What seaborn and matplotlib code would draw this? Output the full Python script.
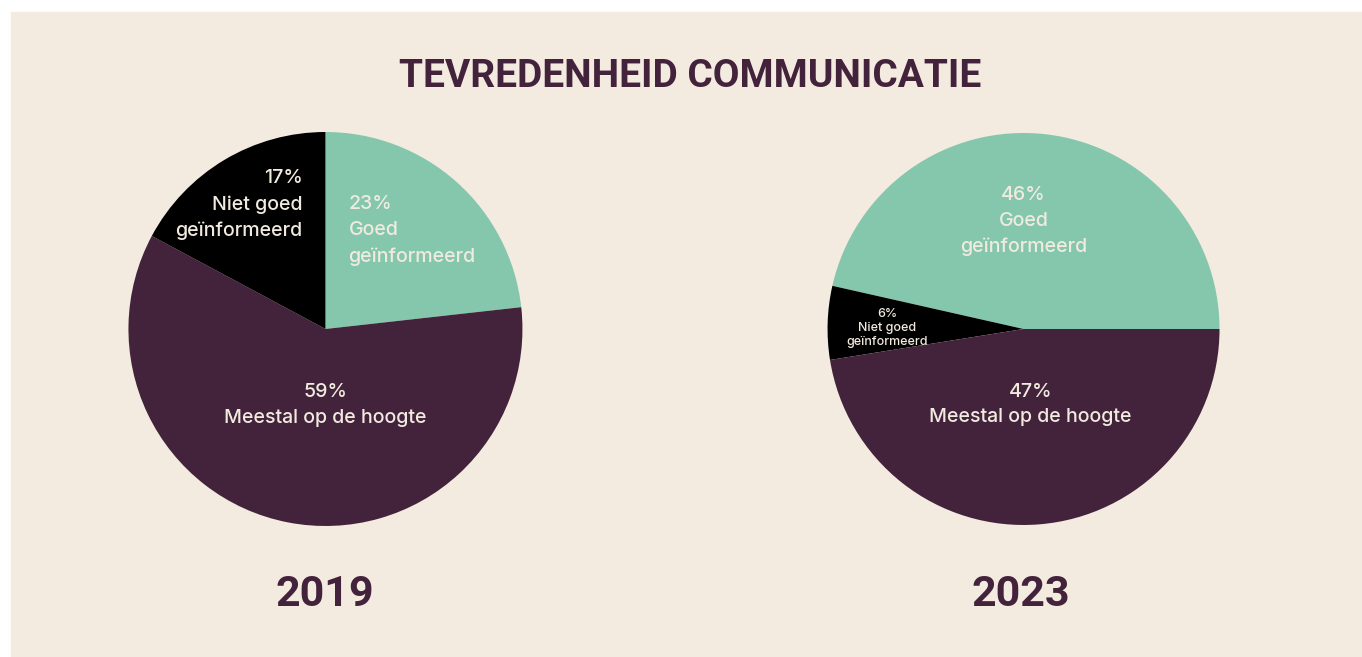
import matplotlib.pyplot as plt
import matplotlib.patches as mpatches
import seaborn as sns

# data
years = ['2019', '2023']
categories = ['Goed geïnformeerd', 'Meestal op de hoogte', 'Niet goed geïnformeerd']
values_2019 = [23, 59, 17]
values_2023 = [46, 6, 47]   # order as drawn counter-clockwise from 3 o'clock
order_2023 = ['Goed geïnformeerd', 'Niet goed geïnformeerd', 'Meestal op de hoogte']
title = 'TEVREDENHEID COMMUNICATIE'

BG = '#F3EBE0'
PURPLE = '#43233B'
GREEN = '#84C7AD'
BLACK = '#000000'
TXT = '#F1EADF'
colors = {'Goed geïnformeerd': GREEN, 'Meestal op de hoogte': PURPLE,
          'Niet goed geïnformeerd': BLACK}

sns.set_theme(style='white')
plt.rcParams['font.family'] = ['Inter', 'DejaVu Sans']
head_font = ['Roboto', 'DejaVu Sans']

fig = plt.figure(figsize=(13.62, 6.57), dpi=100, facecolor='white')
fig.patches.append(mpatches.Rectangle((11 / 1362, 0), 1, 1 - 12 / 657,
                                      transform=fig.transFigure, color=BG, zorder=-5))

ax1 = fig.add_axes([0.0943, 0.1994, 0.2893, 0.5997])
ax2 = fig.add_axes([0.6076, 0.2009, 0.2878, 0.5967])

ax1.pie(values_2019, colors=[colors[c] for c in categories], startangle=90,
        counterclock=False, radius=1, wedgeprops=dict(linewidth=0))
ax2.pie(values_2023, colors=[colors[c] for c in order_2023], startangle=0,
        counterclock=True, radius=1, wedgeprops=dict(linewidth=0))

for ax in (ax1, ax2):
    ax.set_xlim(-1, 1)
    ax.set_ylim(-1, 1)
    ax.set_aspect('equal')
    ax.axis('off')
    ax.patch.set_alpha(0)

big = 14.1
ls = 1.55
w = 'medium'
ax1.text(-0.117, 0.63, f'{values_2019[2]}%\nNiet goed\ngeïnformeerd', ha='right', va='center',
         multialignment='right', color=TXT, fontsize=big, linespacing=ls, fontweight=w)
ax1.text(0.117, 0.50, f'{values_2019[0]}%\nGoed\ngeïnformeerd', ha='left', va='center',
         multialignment='left', color=TXT, fontsize=big, linespacing=ls, fontweight=w)
ax1.text(0, -0.385, f'{values_2019[1]}%\nMeestal op de hoogte', ha='center', va='center',
         color=TXT, fontsize=big, linespacing=ls, fontweight=w)

ax2.text(0, 0.55, f'{values_2023[0]}%\nGoed\ngeïnformeerd', ha='center', va='center',
         color=TXT, fontsize=big, linespacing=ls, fontweight=w)
ax2.text(-0.694, 0.005, f'{values_2023[1]}%\nNiet goed\ngeïnformeerd', ha='center', va='center',
         color=TXT, fontsize=9, linespacing=1.2, fontweight=w)
ax2.text(0.036, -0.385, f'{values_2023[2]}%\nMeestal op de hoogte', ha='center', va='center',
         color=TXT, fontsize=big, linespacing=ls, fontweight=w)

fig.text(0.507, 0.884, title, ha='center', va='center', color=PURPLE,
         fontsize=28, fontweight='bold', family=head_font)
fig.text(0.2386, 0.0958, years[0], ha='center', va='center', color=PURPLE,
         fontsize=31, fontweight='bold', family=head_font)
fig.text(0.7496, 0.0958, years[1], ha='center', va='center', color=PURPLE,
         fontsize=31, fontweight='bold', family=head_font)

fig.savefig('out.png', dpi=100, facecolor='white')
